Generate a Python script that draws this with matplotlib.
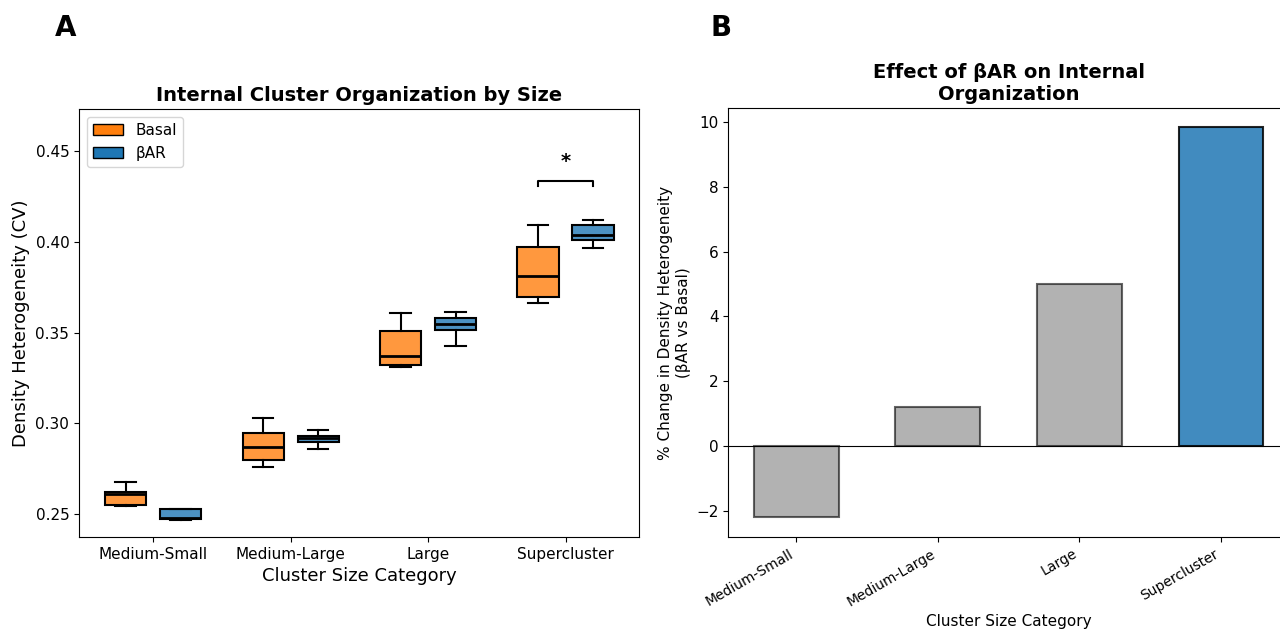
import matplotlib
matplotlib.use('Agg')
import matplotlib.pyplot as plt
from matplotlib.patches import Patch
from matplotlib.colors import to_rgba

# data
categories = ['Medium-Small', 'Medium-Large', 'Large', 'Supercluster']

# box stats: whisker low, q1, median, q3, whisker high
basal_whislo = [0.2544, 0.2760, 0.3311, 0.3663]
basal_q1 = [0.2553, 0.2799, 0.3324, 0.3696]
basal_med = [0.2610, 0.2871, 0.3370, 0.3814]
basal_q3 = [0.2623, 0.2948, 0.3511, 0.3972]
basal_whishi = [0.2680, 0.3030, 0.3608, 0.4095]

bar_whislo = [0.2469, 0.2858, 0.3427, 0.3966]
bar_q1 = [0.2474, 0.2900, 0.3513, 0.4008]
bar_med = [0.2482, 0.2918, 0.3550, 0.4036]
bar_q3 = [0.2528, 0.2933, 0.3583, 0.4095]
bar_whishi = [0.2528, 0.2962, 0.3612, 0.4122]

pct_change = [-2.2, 1.2, 5.0, 9.83]
significant = [False, False, False, True]

c_basal = '#ff7f0e'
c_bar = '#1f77b4'


def make_stats(lo, q1, med, q3, hi):
    return [dict(whislo=a, q1=b, med=c, q3=d, whishi=e, fliers=[])
            for a, b, c, d, e in zip(lo, q1, med, q3, hi)]


fig = plt.figure(figsize=(12.8, 6.31), dpi=100)
ax1 = fig.add_axes([0.0617, 0.149, 0.4375, 0.678])
ax2 = fig.add_axes([0.569, 0.149, 0.438, 0.680])

# ---- panel A ----
x = list(range(len(categories)))
box_kw = dict(patch_artist=True, widths=0.3, showfliers=False,
              medianprops=dict(color='black', linewidth=2),
              whiskerprops=dict(linewidth=1.5),
              capprops=dict(linewidth=1.5),
              boxprops=dict(linewidth=1.5), manage_ticks=False)
b1 = ax1.bxp(make_stats(basal_whislo, basal_q1, basal_med, basal_q3, basal_whishi),
             positions=[i - 0.2 for i in x], **box_kw)
b2 = ax1.bxp(make_stats(bar_whislo, bar_q1, bar_med, bar_q3, bar_whishi),
             positions=[i + 0.2 for i in x], **box_kw)
for p in b1['boxes']:
    p.set_facecolor(to_rgba(c_basal, 0.8))
for p in b2['boxes']:
    p.set_facecolor(to_rgba(c_bar, 0.8))

# significance bracket
for i, sig in enumerate(significant):
    if sig:
        top = max(basal_whishi[i], bar_whishi[i]) + 0.0213
        ax1.plot([i - 0.2, i - 0.2, i + 0.2, i + 0.2],
                 [top - 0.0028, top, top, top - 0.0028], color='black', linewidth=1.5)
        ax1.text(i, top + 0.0055, '*', ha='center', va='bottom', fontsize=14, fontweight='bold')

ax1.set_xticks(x)
ax1.set_xticklabels(categories, fontsize=11)
ax1.set_xlim(-0.54, 3.534)
ax1.set_ylim(0.2375, 0.473)
ax1.set_yticks([0.25, 0.30, 0.35, 0.40, 0.45])
ax1.tick_params(labelsize=11)
ax1.set_xlabel('Cluster Size Category', fontsize=13)
ax1.set_ylabel('Density Heterogeneity (CV)', fontsize=13)
ax1.set_title('Internal Cluster Organization by Size', fontsize=14, fontweight='bold')
ax1.legend(handles=[Patch(facecolor=c_basal, edgecolor='black', label='Basal'),
                    Patch(facecolor=c_bar, edgecolor='black', label='βAR')],
           loc='upper left', fontsize=11)

# ---- panel B ----
for i, v in enumerate(pct_change):
    if significant[i]:
        ax2.bar(i, v, width=0.6, color=c_bar, alpha=0.85, edgecolor='black', linewidth=1.5)
    else:
        ax2.bar(i, v, width=0.6, color='gray', alpha=0.6, edgecolor='black', linewidth=1.5)
ax2.axhline(0, color='black', linewidth=0.8)
ax2.set_xticks(x)
ax2.set_xticklabels(categories, rotation=30, ha='right', fontsize=10)
ax2.set_xlabel('Cluster Size Category', fontsize=11)
ax2.set_ylabel('% Change in Density Heterogeneity\n(βAR vs Basal)', fontsize=11)
ax2.set_title('Effect of βAR on Internal\nOrganization', fontsize=14, fontweight='bold')
ax2.tick_params(axis='y', labelsize=11)

fig.text(0.043, 0.943, 'A', fontsize=20, fontweight='bold', ha='left', va='baseline')
fig.text(0.555, 0.943, 'B', fontsize=20, fontweight='bold', ha='left', va='baseline')

fig.savefig('out.png', dpi=100)
plt.close()
